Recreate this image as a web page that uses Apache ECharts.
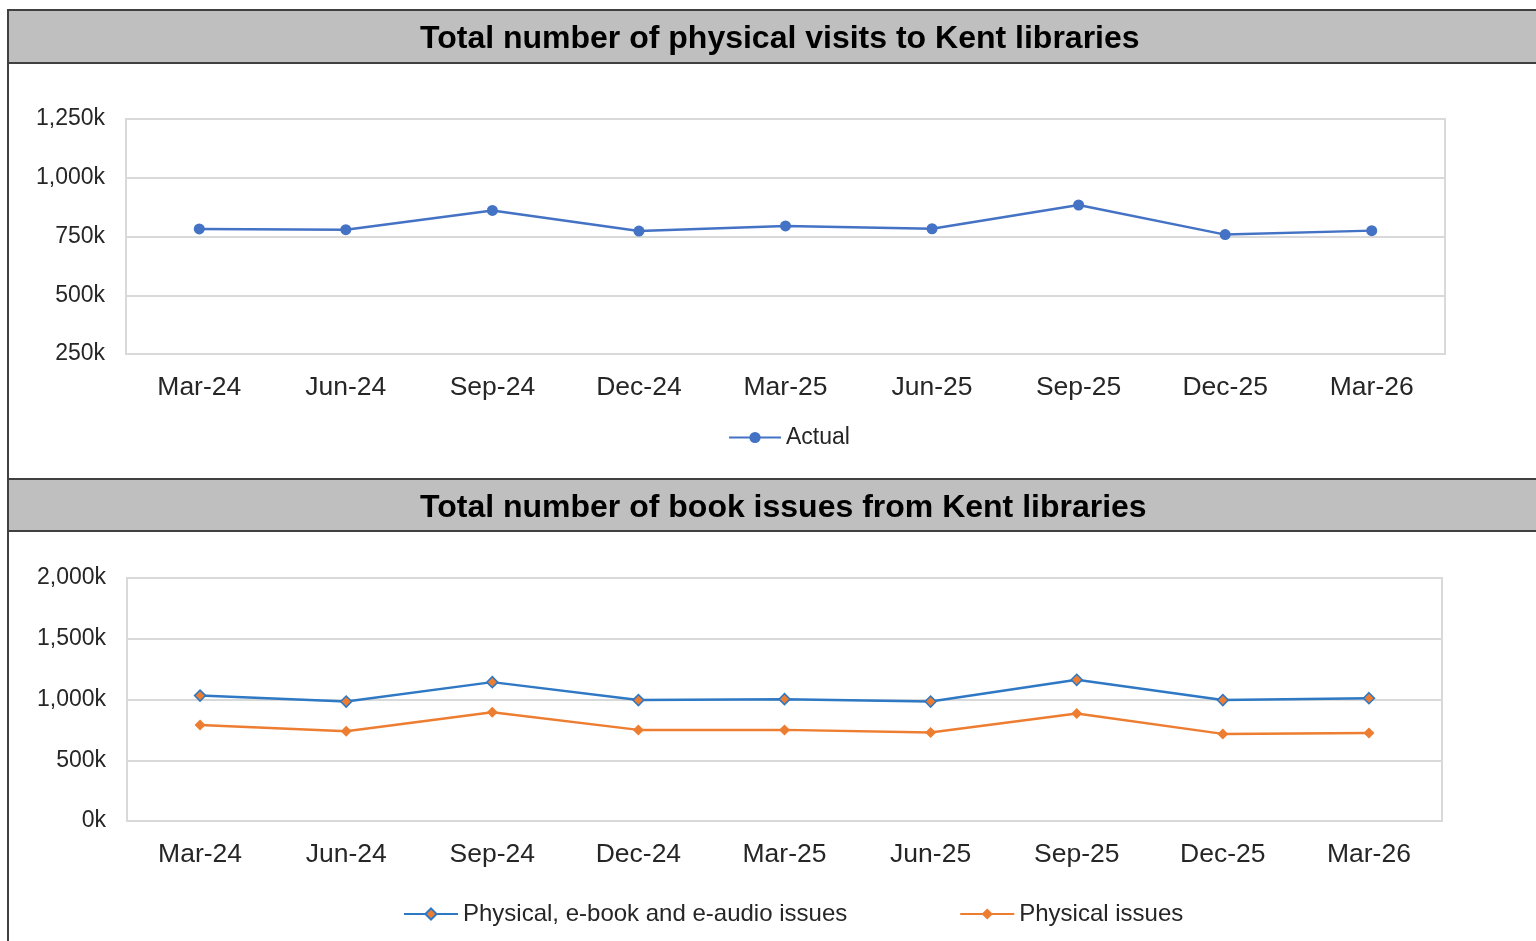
<!DOCTYPE html>
<html>
<head>
<meta charset="utf-8">
<script src="https://cdn.jsdelivr.net/npm/echarts@6/dist/echarts.min.js"></script>
<style>
html,body{margin:0;padding:0;background:#fff;}
#c{width:1536px;height:941px;}
</style>
</head>
<body>
<div id="c"></div>
<script>
const categories = ['Mar-24','Jun-24','Sep-24','Dec-24','Mar-25','Jun-25','Sep-25','Dec-25','Mar-26'];
const visitsActual = [782000, 779000, 861000, 773000, 795000, 783000, 884000, 758000, 775000];
const issuesAll = [1032000, 983000, 1143000, 995000, 1003000, 983000, 1162000, 995000, 1011000];
const issuesPhysical = [791000, 739000, 896000, 750000, 750000, 728000, 884000, 717000, 725000];
const title1 = 'Total number of physical visits to Kent libraries';
const title2 = 'Total number of book issues from Kent libraries';
const legendVisits = ['Actual'];
const legendIssues = ['Physical, e-book and e-audio issues', 'Physical issues'];

const FONT = '"Liberation Sans", Arial, sans-serif';
const TXT = '#262626';
const fmtK = v => (v / 1000).toLocaleString('en-US') + 'k';

const chart = echarts.init(document.getElementById('c'));

function xAxisCfg(gi){
  return {
    type:'category', gridIndex:gi, data:categories, boundaryGap:true,
    axisLine:{show:false}, axisTick:{show:false},
    axisLabel:{color:TXT, fontFamily:FONT, fontSize:26.5, margin:20}
  };
}
function yAxisCfg(gi, min, max, interval){
  return {
    type:'value', gridIndex:gi, min:min, max:max, interval:interval,
    axisLine:{show:false}, axisTick:{show:false},
    axisLabel:{color:TXT, fontFamily:FONT, fontSize:23, margin:21, formatter:fmtK},
    splitLine:{lineStyle:{color:'#d9d9d9', width:2}}
  };
}

chart.setOption({
  animation:false,
  backgroundColor:'#ffffff',
  graphic:[
    {type:'rect', shape:{x:8, y:10, width:1540, height:53}, style:{fill:'#bfbfbf', stroke:'#404040', lineWidth:2}, z:-1},
    {type:'rect', shape:{x:8, y:479, width:1540, height:52}, style:{fill:'#bfbfbf', stroke:'#404040', lineWidth:2}, z:-1},
    {type:'line', shape:{x1:8, y1:10, x2:8, y2:941}, style:{stroke:'#404040', lineWidth:2}, z:-1}
  ],
  title:[
    {text:title1, left:420, top:23, padding:0,
     textStyle:{fontFamily:FONT, fontSize:32, fontWeight:'bold', color:'#000'}},
    {text:title2, left:420, top:492, padding:0,
     textStyle:{fontFamily:FONT, fontSize:32, fontWeight:'bold', color:'#000'}}
  ],
  legend:[
    {data:legendVisits, left:728, top:426, itemWidth:52, itemHeight:14, itemGap:40,
     textStyle:{fontFamily:FONT, fontSize:23, color:TXT}, padding:0},
    {data:legendIssues, left:403, top:902, itemWidth:54, itemHeight:14, itemGap:112,
     textStyle:{fontFamily:FONT, fontSize:24, color:TXT}, padding:0}
  ],
  grid:[
    {left:126, top:119, width:1319, height:235, show:true, borderColor:'#d9d9d9', borderWidth:2, backgroundColor:'transparent'},
    {left:127, top:578, width:1315, height:243, show:true, borderColor:'#d9d9d9', borderWidth:2, backgroundColor:'transparent'}
  ],
  xAxis:[xAxisCfg(0), xAxisCfg(1)],
  yAxis:[yAxisCfg(0, 250000, 1250000, 250000), yAxisCfg(1, 0, 2000000, 500000)],
  series:[
    {name:legendVisits[0], type:'line', xAxisIndex:0, yAxisIndex:0, data:visitsActual,
     symbol:'circle', symbolSize:11, showAllSymbol:true,
     lineStyle:{color:'#4472C4', width:2.5}, itemStyle:{color:'#4472C4'}},
    {name:legendIssues[0], type:'line', xAxisIndex:1, yAxisIndex:1, data:issuesAll,
     symbol:'diamond', symbolSize:11, showAllSymbol:true,
     lineStyle:{color:'#2E78C4', width:2.5}, itemStyle:{color:'#ED7D31', borderColor:'#2E78C4', borderWidth:1.5}},
    {name:legendIssues[1], type:'line', xAxisIndex:1, yAxisIndex:1, data:issuesPhysical,
     symbol:'diamond', symbolSize:11, showAllSymbol:true,
     lineStyle:{color:'#ED7D31', width:2.5}, itemStyle:{color:'#ED7D31'}}
  ]
});
</script>
</body>
</html>
